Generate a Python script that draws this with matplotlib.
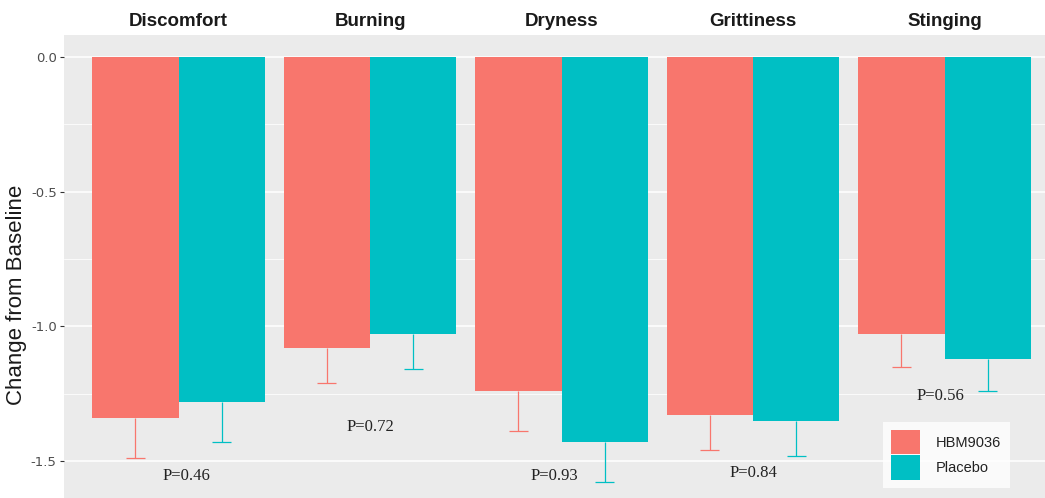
import matplotlib
matplotlib.use("Agg")
import matplotlib.pyplot as plt
import matplotlib.transforms as mtrans
from matplotlib.patches import Patch
import numpy as np

# ---- data ----
symptoms = ["Discomfort", "Burning", "Dryness", "Grittiness", "Stinging"]
groups = ["HBM9036", "Placebo"]
hbm_mean = [-1.34, -1.08, -1.24, -1.33, -1.03]
hbm_se = [0.15, 0.13, 0.15, 0.13, 0.12]
pla_mean = [-1.28, -1.03, -1.43, -1.35, -1.12]
pla_se = [0.15, 0.13, 0.15, 0.13, 0.12]
p_labels = ["P=0.46", "P=0.72", "P=0.93", "P=0.84", "P=0.56"]
p_x = [1.04, 2.0, 2.96, 4.0, 4.98]
p_y = [-1.556, -1.374, -1.556, -1.545, -1.26]
yticks = [0.0, -0.5, -1.0, -1.5]
ytick_labels = ["0.0", "-0.5", "-1.0", "-1.5"]

colors = ["#F8766D", "#00BFC4"]

W, H = 1045, 498
fig = plt.figure(figsize=(W / 100, H / 100), dpi=100)
fig.patch.set_facecolor("white")

# panel in pixel coordinates (extends beyond the right/bottom edge like the reference)
left_px, right_px, top_px, bot_px = 63.6, 1059.4, 35, 504
ax = fig.add_axes([left_px / W, 1 - bot_px / H, (right_px - left_px) / W, (bot_px - top_px) / H])
ax.set_facecolor("#EBEBEB")
for s in ax.spines.values():
    s.set_visible(False)

x = np.arange(1, len(symptoms) + 1)
ax.set_xlim(0.4, 5.6)
ax.set_ylim(-1.660, 0.0817)

# grid
ax.set_yticks(yticks)
ax.set_yticklabels(ytick_labels)
ax.set_yticks([-0.25, -0.75, -1.25], minor=True)
ax.grid(axis="y", which="major", color="white", linewidth=1.1)
ax.grid(axis="y", which="minor", color="white", linewidth=0.55)
ax.set_axisbelow(True)
ax.set_xticks([])
ax.tick_params(axis="y", which="major", length=3, width=0.8, color="#333333",
               labelcolor="#4D4D4D", labelsize=9.5, pad=2)
ax.tick_params(axis="y", which="minor", length=0)

bw = 0.45
means = [hbm_mean, pla_mean]
ses = [hbm_se, pla_se]
offs = [-bw / 2, bw / 2]
for g in range(2):
    xs = x + offs[g]
    m = np.array(means[g])
    se = np.array(ses[g])
    ax.bar(xs, m, width=bw, color=colors[g], zorder=2)
    ax.vlines(xs, m - se, m, color=colors[g], linewidth=0.9, zorder=1.5)
    ax.hlines(m - se, xs - 0.05, xs + 0.05, color=colors[g], linewidth=0.9, zorder=1.5)

# p-values
for lbl, px, py in zip(p_labels, p_x, p_y):
    ax.text(px, py, lbl, ha="center", va="center", fontsize=12,
            family="Liberation Serif", color="#222222", zorder=3)

# facet-style titles
tr = mtrans.blended_transform_factory(ax.transData, fig.transFigure)
for xi, name in zip(x, symptoms):
    ax.text(xi, 1 - 21 / H, name, transform=tr, ha="center", va="center",
            fontsize=13.5, fontweight="bold", family="Liberation Sans",
            color="#1A1A1A", clip_on=False)

# y label
fig.text(17 / W, 1 - 295 / H, "Change from Baseline", rotation=90, ha="center",
         va="center", fontsize=16, family="Liberation Sans", color="#1A1A1A")

# legend
handles = [Patch(facecolor=c, edgecolor="none") for c in colors]
leg = fig.legend(handles, groups, loc="upper left",
                 bbox_to_anchor=(883 / W, 1 - 422 / H), bbox_transform=fig.transFigure,
                 frameon=True, fancybox=False,
                 prop={"family": "Liberation Sans", "size": 10.5},
                 handlelength=2.0, handleheight=2.2, labelspacing=0.05,
                 handletextpad=1.1, borderpad=0.55, borderaxespad=0)
leg.get_frame().set_facecolor("white")
leg.get_frame().set_edgecolor("none")
for t in leg.get_texts():
    t.set_color("#222222")

fig.savefig("out.png", dpi=100)
